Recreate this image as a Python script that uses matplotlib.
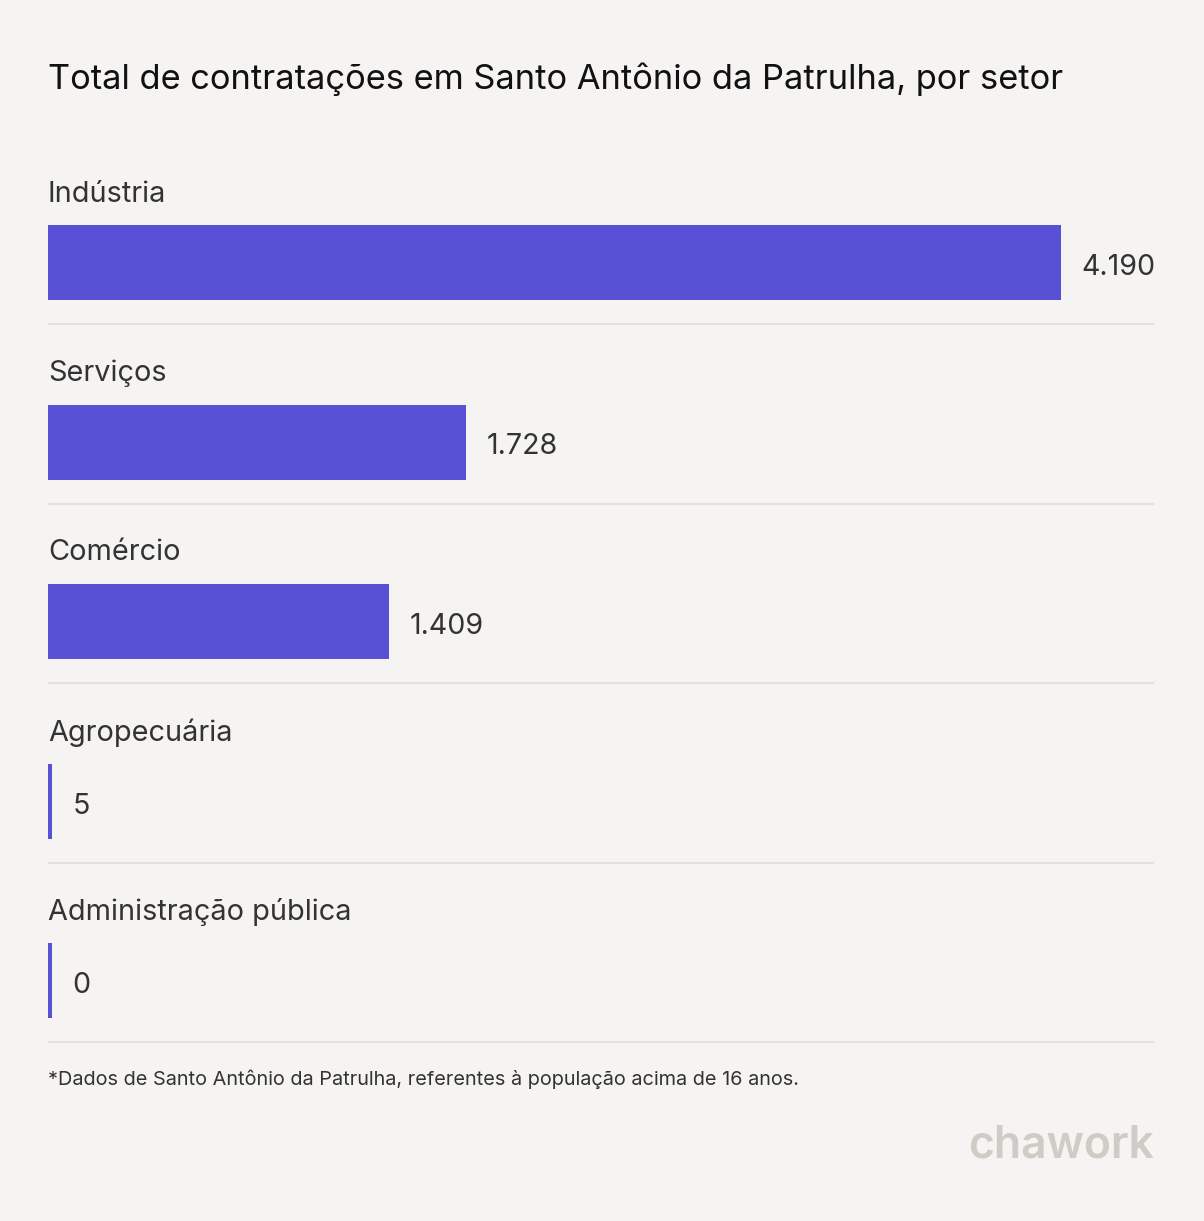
import matplotlib
matplotlib.use("Agg")
import matplotlib.pyplot as plt
import matplotlib.transforms as mtransforms

categories = ["Indústria", "Serviços", "Comércio", "Agropecuária", "Administração pública"]
values = [4190, 1728, 1409, 5, 0]
value_labels = ["4.190", "1.728", "1.409", "5", "0"]

title = "Total de contratações em Santo Antônio da Patrulha, por setor"
footnote = "*Dados de Santo Antônio da Patrulha, referentes à população acima de 16 anos."

BG = "#F5F4F2"
BAR = "#5851D6"
TXT = "#333333"
SEP = "#E2E1DF"
LOGO = "#CFCCC6"
FONT = ["Inter", "DejaVu Sans"]

W, H = 1204, 1221
fig = plt.figure(figsize=(W / 100, H / 100), dpi=100, facecolor=BG)

left_px, right_px = 48, 1154
ax = fig.add_axes([left_px / W, 0, (right_px - left_px) / W, 1])
ax.set_facecolor(BG)
xmax = values[0] * (right_px - left_px) / (1061 - left_px)
ax.set_xlim(0, xmax)
step = 179.5
c0 = 262.5
ax.set_ylim((H - c0) / step, -c0 / step)
for s in ax.spines.values():
    s.set_visible(False)
ax.set_xticks([])
ax.set_yticks([])

px_per_unit = (right_px - left_px) / xmax
min_w = 4 / px_per_unit
widths = [max(v, min_w) for v in values]
ypos = list(range(len(categories)))
ax.barh(ypos, widths, height=75 / step, color=BAR, align="center")

for i, (cat, w, lab) in enumerate(zip(categories, widths, value_labels)):
    ax.text(0, i - 68.5 / step, cat, ha="left", va="center", fontsize=20.8,
            color=TXT, family=FONT)
    off = mtransforms.offset_copy(ax.transData, fig=fig, x=20.5, y=0, units="dots")
    ax.text(w, i + 5 / step, lab, ha="left", va="center", fontsize=20.6, color=TXT,
            family=FONT, transform=off)
    ax.axhline(i + 61.5 / step, color=SEP, lw=1.5, xmin=0, xmax=1)

fig.text(48 / W, 1 - 79 / H, title, ha="left", va="center", fontsize=24.8,
         color="#111111", family=FONT)
fig.text(48 / W, 1 - 1079 / H, footnote, ha="left", va="center", fontsize=14.3,
         color=TXT, family=FONT)
fig.text(1154 / W, 1 - 1145 / H, "chawork", ha="right", va="center", fontsize=32,
         color=LOGO, family=FONT, weight="semibold")

fig.savefig("out.png", dpi=100, facecolor=BG)
